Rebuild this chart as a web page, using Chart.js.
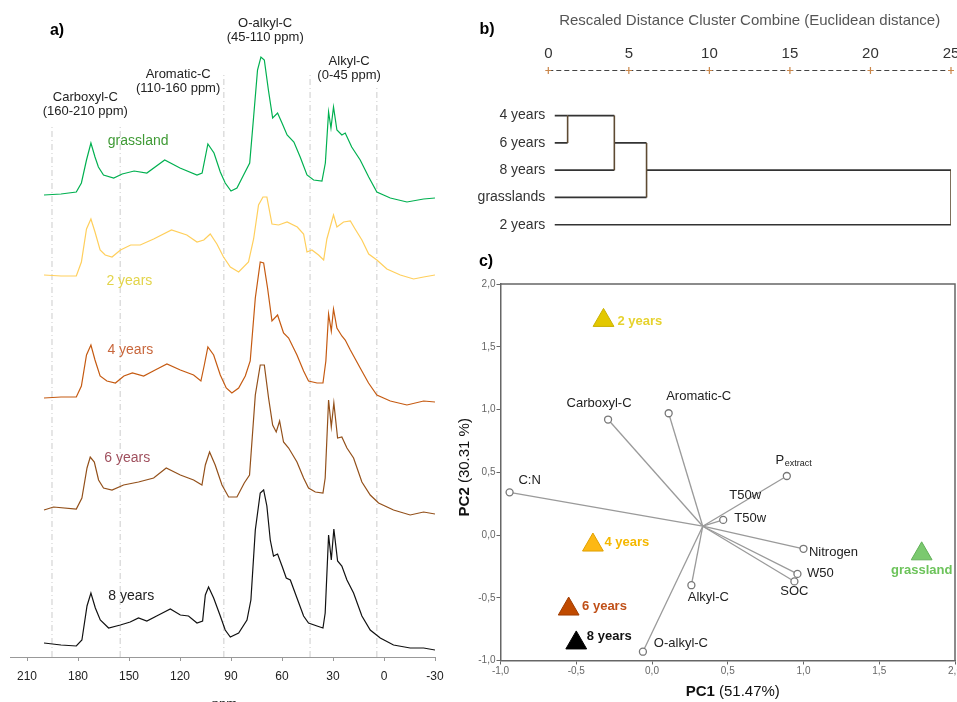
<!DOCTYPE html>
<html>
<head>
<meta charset="utf-8">
<title>13C NMR spectra, cluster analysis and PCA</title>
<script src="https://cdn.jsdelivr.net/npm/chart.js@4.4.1/dist/chart.umd.min.js"></script>
<style>
  body { margin: 0; background: #fff; }
  #wrap { position: relative; width: 957px; height: 702px; overflow: hidden; }
  canvas { position: absolute; }
  #spectra { left: 0; top: 0; }
  #dendro { left: 470px; top: 0; }
  #pca { left: 450px; top: 250px; }
</style>
</head>
<body>
<div id="wrap">
  <canvas id="spectra" width="450" height="702"></canvas>
  <canvas id="dendro" width="487" height="250"></canvas>
  <canvas id="pca" width="507" height="452"></canvas>
</div>
<script>
// ---- a) NMR spectra, [ppm, intensity above own baseline] ----
const grassland = [[200,0],[190,1],[181,3],[178,12],[175,35],[172.4,52],[170,38],[168,28],[165,20],[159,17],[154,21],[147,24],[139.5,22],[129,35],[120,27],[110,20],[107,22],[103.6,51],[100,42],[96.3,23],[93.4,12],[90,4],[86.5,7],[82.6,20],[79,32],[76.7,78],[74.4,125],[72.4,138],[70.4,135],[68,105],[65.5,77],[62.6,82],[60,72],[57,60],[53,53],[49.3,38],[45.3,20],[41.4,15],[36.5,14],[34.5,32],[32.6,83],[31.2,67],[29.7,88],[27.7,65],[24.8,60],[22.8,62],[19,48],[14,35],[9,18],[4.2,3],[-3.7,-3],[-13.5,-7],[-23.3,-4],[-30,-3]];
const twoYears = [[200,2],[190,1],[181,1],[178,15],[175,48],[172.4,58],[170,45],[167,27],[164,22],[160,20],[155,27],[149,32],[143.4,32],[135.5,38],[125,47],[116,42],[110,35],[106,37],[102.2,43],[98.3,33],[94.4,20],[90.4,10],[85.5,5],[79.7,15],[76.7,38],[73.8,72],[71.2,80],[68.9,80],[65.9,53],[62,52],[57,55],[51,50],[47.3,43],[45.3,25],[42.4,27],[38.5,22],[35.5,17],[33.6,38],[29.7,62],[27.7,50],[23.8,55],[19.8,56],[17,48],[13,37],[9,23],[4.2,17],[-1.7,8],[-9.6,2],[-17.4,-2],[-23.3,0],[-30,2]];
const fourYears = [[200,0],[190,1],[181,1],[178,12],[175,43],[172.4,53],[170,38],[167,22],[163,17],[158,15],[153,22],[148,25],[141.4,22],[134.6,28],[127.7,34],[119.8,28],[112,23],[107.7,17],[105.7,33],[103.6,51],[100.2,43],[96.3,23],[92.8,10],[89.5,5],[85.5,10],[81.6,22],[78.7,37],[75.7,100],[72.8,136],[70.8,135],[68.5,110],[65.9,77],[62.6,83],[59.1,65],[56.1,60],[51.2,43],[47.3,27],[44.4,17],[39.4,15],[35.9,15],[34.2,37],[32.6,84],[31,67],[29.7,89],[27.7,70],[24.8,62],[22.8,58],[19.8,48],[14,30],[9.1,15],[4.2,3],[-3.7,-3],[-13.5,-7],[-23.3,-3],[-30,-4]];
const sixYears = [[200,0],[194.4,3],[181,1],[177.7,12],[174.7,42],[172.8,53],[170.4,48],[167.9,30],[165,22],[160,20],[153.2,25],[144.4,28],[135.5,32],[128.1,42],[119.8,35],[112,30],[107.1,25],[105.1,45],[102.6,58],[99.3,45],[95.3,25],[91.4,13],[86.5,13],[82.2,27],[79.1,35],[75.7,115],[72.8,145],[70.4,145],[67.9,112],[65.5,85],[63.4,78],[61.4,89],[59.1,68],[56.1,62],[51.2,48],[47.3,32],[44.4,22],[40.4,18],[35.9,17],[34.6,32],[32.6,110],[31,83],[29.5,107],[27.3,72],[24.8,73],[21.8,62],[17.9,52],[13,28],[8.1,15],[3.2,7],[-5.6,0],[-15.4,-5],[-23.3,-2],[-30,-4]];
const eightYears = [[200,1],[190,-1],[181,-2],[177.7,4],[174.7,38],[172.4,51],[169.8,36],[166.9,24],[162,16],[155.1,19],[149.3,22],[144.4,26],[139.5,23],[132.6,29],[125.7,35],[119.8,29],[115,28],[110,21],[106.7,23],[105.1,49],[103.2,57],[100.2,46],[96.3,28],[93.4,14],[90.4,7],[85.5,11],[80.6,24],[78.3,44],[75.7,114],[72.8,151],[70.8,154],[68.9,138],[66.9,104],[65,88],[62.6,90],[60,78],[57.5,66],[55.1,64],[51.2,46],[47.3,28],[44.4,21],[39.4,18],[35.9,16],[34.6,31],[32.6,109],[31,84],[29.5,115],[27.3,83],[24.8,78],[21.8,64],[17.9,51],[13,28],[8.1,14],[2.2,6],[-5.6,-1],[-15.4,-4],[-23.3,-4],[-30,-6]];
const spectraNames = ["grassland", "2 years", "4 years", "6 years", "8 years"];
const ppmTicks = [210, 180, 150, 120, 90, 60, 30, 0, -30];
const regionLabels = [["Carboxyl-C", "(160-210 ppm)"], ["Aromatic-C", "(110-160 ppm)"], ["O-alkyl-C", "(45-110 ppm)"], ["Alkyl-C", "(0-45 ppm)"]];
const regionBounds = [195.3, 155.2, 94.2, 43.5, 4.2];

// ---- b) dendrogram ----
const leafNames = ["4 years", "6 years", "8 years", "grasslands", "2 years"];
const mergePairs = [[0, 1], [0, 2], [0, 3], [0, 4]];
const mergeDist = [1.2, 4.1, 6.1, 25];
const leafStart = 0.4;

// ---- c) PCA biplot ----
const varNames = ["Carboxyl-C", "Aromatic-C", "Pextract", "C:N", "T50w", "Nitrogen", "W50", "SOC", "Alkyl-C", "O-alkyl-C"];
const varPC1 = [-0.29, 0.11, 0.89, -0.94, 0.47, 1.0, 0.96, 0.94, 0.26, -0.06];
const varPC2 = [0.92, 0.97, 0.47, 0.34, 0.12, -0.11, -0.31, -0.37, -0.4, -0.93];
const vectorOrigin = [0.335, 0.07];
const sampleNames = ["2 years", "4 years", "6 years", "8 years", "grassland"];
const samplePC1 = [-0.32, -0.39, -0.55, -0.5, 1.78];
const samplePC2 = [1.71, -0.08, -0.59, -0.86, -0.15];

// ---- layout and styles ----
const FONT = '"Liberation Sans", Arial, sans-serif';
const spectraData = [grassland, twoYears, fourYears, sixYears, eightYears];
const spectraOffset = [462, 380, 259, 147, 13];
const spectraColors = ["#00b050", "#ffcf5c", "#c55a11", "#93501a", "#111111"];
const spectraLabelColors = ["#3f9a35", "#e2d44a", "#c8673c", "#a0505e", "#222222"];
const spectraLabelPos = [[144.6, 516], [149.8, 376], [149.2, 307], [151, 199], [148.7, 61]];
const regionLabelPos = [[175.7, 560], [121.1, 583], [69.9, 634], [20.5, 596]];
const regionLineTop = [530, 532, 585, 585, 569];
const varLabelOffset = [[-9, -16], [30, -17], [-7, -16], [20, -12], [27, -2], [30, 4], [23, 0], [0, 10], [17, 12], [38, -8]];
const extraLabel = { text: "T50w", x: 0.615, y: 0.319 };
const sampleFill = ["#e3c800", "#fdb813", "#c04a00", "#000000", "#7bc96f"];
const sampleBorder = ["#c9b000", "#e0a000", "#a03c00", "#000000", "#62b058"];
const sampleLabelColors = ["#e6d22e", "#f5b800", "#c05018", "#111111", "#6cc35a"];
const sampleLabelOffset = [[14, 1, "left"], [11.6, -3, "left"], [13.4, -3, "left"], [10.6, -7, "left"], [0, 17, "center"]];

Chart.defaults.font.family = FONT;
Chart.defaults.animation = false;

// ---------- a) ----------
const spectraSets = spectraData.map((s, i) => ({
  label: spectraNames[i],
  data: s.map(([p, v]) => ({ x: p, y: v + spectraOffset[i] })),
  borderColor: spectraColors[i],
  borderWidth: 1.2,
  pointRadius: 0,
  tension: 0,
  order: 0,
}));
const guideSets = regionBounds.map((p, i) => ({
  data: [{ x: p, y: 0 }, { x: p, y: regionLineTop[i] }],
  borderColor: "#cccccc",
  borderWidth: 1,
  borderDash: [6, 3, 1, 3],
  pointRadius: 0,
  order: 1,
}));

const spectraText = {
  id: "spectraText",
  afterDraw(chart) {
    const { ctx, scales: { x, y } } = chart;
    ctx.save();
    ctx.textAlign = "center";
    ctx.textBaseline = "middle";
    ctx.fillStyle = "#000";
    ctx.font = "bold 16px " + FONT;
    ctx.fillText("a)", 57, 31);
    ctx.font = "13px " + FONT;
    ctx.fillStyle = "#222";
    regionLabels.forEach((lines, i) => {
      const px = x.getPixelForValue(regionLabelPos[i][0]);
      const py = y.getPixelForValue(regionLabelPos[i][1]);
      lines.forEach((t, j) => ctx.fillText(t, px, py + j * 14));
    });
    ctx.font = "14px " + FONT;
    spectraNames.forEach((n, i) => {
      ctx.fillStyle = spectraLabelColors[i];
      ctx.fillText(n, x.getPixelForValue(spectraLabelPos[i][0]), y.getPixelForValue(spectraLabelPos[i][1]));
    });
    ctx.font = "13px " + FONT;
    ctx.fillStyle = "#222";
    ctx.fillText("ppm", (x.left + x.right) / 2 + 2, 704);
    ctx.restore();
  },
};

new Chart(document.getElementById("spectra"), {
  type: "line",
  data: { datasets: [...spectraSets, ...guideSets] },
  options: {
    responsive: false,
    layout: { autoPadding: false, padding: { left: 10, right: 15, top: 0, bottom: 0 } },
    plugins: { legend: { display: false }, tooltip: { enabled: false } },
    scales: {
      x: {
        type: "linear",
        reverse: true,
        min: -30,
        max: 220,
        afterBuildTicks: (s) => { s.ticks = ppmTicks.map((v) => ({ value: v })); },
        afterFit: (s) => { s.height = 45; s.paddingLeft = 0; s.paddingRight = 0; },
        grid: { drawOnChartArea: false, drawTicks: true, tickLength: 4, color: "#999" },
        border: { color: "#999", width: 1 },
        ticks: { font: { size: 12 }, color: "#222", padding: 8, maxRotation: 0, autoSkip: false, callback: (v) => String(v) },
      },
      y: { display: false, min: 0, max: 657 },
    },
  },
  plugins: [spectraText],
});

// ---------- b) ----------
let clusters = leafNames.map((n, i) => ({ x: leafStart, y: i + 1 }));
let hSegs = [];
let vSegs = [];
mergePairs.forEach(([a, b], k) => {
  const d = mergeDist[k];
  const A = clusters[a];
  const B = clusters[b];
  hSegs.push([{ x: A.x, y: A.y }, { x: d, y: A.y }]);
  hSegs.push([{ x: B.x, y: B.y }, { x: d, y: B.y }]);
  vSegs.push([{ x: d, y: A.y }, { x: d, y: B.y }]);
  clusters[a] = { x: d, y: Math.floor((A.y + B.y) / 2) };
});
const segStyle = (seg, color) => ({ data: seg, borderColor: color, borderWidth: 1.6, pointRadius: 0, tension: 0 });

const dendroText = {
  id: "dendroText",
  afterDraw(chart) {
    const { ctx, chartArea } = chart;
    const xs = chart.scales.x;
    ctx.save();
    ctx.fillStyle = "#000";
    ctx.font = "bold 16px " + FONT;
    ctx.textAlign = "center";
    ctx.textBaseline = "middle";
    ctx.fillText("b)", 17, 30);
    // dashed distance axis
    ctx.strokeStyle = "#444";
    ctx.lineWidth = 1;
    ctx.setLineDash([5, 3]);
    ctx.beginPath();
    ctx.moveTo(chartArea.left, chartArea.top + 0.5);
    ctx.lineTo(chartArea.right, chartArea.top + 0.5);
    ctx.stroke();
    ctx.setLineDash([]);
    ctx.strokeStyle = "#c9864a";
    ctx.lineWidth = 1.2;
    xs.ticks.forEach((t) => {
      const px = xs.getPixelForValue(t.value);
      ctx.beginPath();
      ctx.moveTo(px - 3, chartArea.top + 0.5);
      ctx.lineTo(px + 3, chartArea.top + 0.5);
      ctx.moveTo(px, chartArea.top - 3);
      ctx.lineTo(px, chartArea.top + 4);
      ctx.stroke();
    });
    ctx.restore();
  },
};

new Chart(document.getElementById("dendro"), {
  type: "line",
  data: { datasets: [...vSegs.map((s) => segStyle(s, "#5e4b33")), ...hSegs.map((s) => segStyle(s, "#333"))] },
  options: {
    responsive: false,
    layout: { autoPadding: false, padding: { left: 0, right: 6, top: 0, bottom: 10 } },
    plugins: { legend: { display: false }, tooltip: { enabled: false } },
    scales: {
      x: {
        type: "linear",
        position: "top",
        min: 0,
        max: 25,
        ticks: { stepSize: 5, font: { size: 15 }, color: "#333", padding: 7, maxRotation: 0 },
        grid: { display: false, drawTicks: false },
        border: { display: false },
        title: {
          display: true,
          text: "Rescaled Distance Cluster Combine (Euclidean distance)",
          font: { size: 15 },
          color: "#555",
          padding: { top: 12, bottom: 0 },
        },
        afterFit: (s) => { s.height = 70; s.paddingLeft = 0; s.paddingRight = 0; },
      },
      y: {
        type: "linear",
        reverse: true,
        min: -0.673,
        max: 5.51,
        afterBuildTicks: (s) => { s.ticks = leafNames.map((n, i) => ({ value: i + 1 })); },
        ticks: { callback: (v) => leafNames[v - 1], font: { size: 14 }, color: "#333", padding: 3, autoSkip: false },
        grid: { display: false, drawTicks: false },
        border: { display: false },
        afterFit: (s) => { s.width = 78.3; },
      },
    },
  },
  plugins: [dendroText],
});

// ---------- c) ----------
const vectorSets = varNames.map((n, i) => ({
  type: "line",
  data: [{ x: vectorOrigin[0], y: vectorOrigin[1] }, { x: varPC1[i], y: varPC2[i] }],
  borderColor: "#9a9a9a",
  borderWidth: 1.3,
  pointRadius: 0,
  tension: 0,
}));
const circleSet = {
  type: "scatter",
  data: varNames.map((n, i) => ({ x: varPC1[i], y: varPC2[i] })),
  pointStyle: "circle",
  pointRadius: 3.5,
  pointBackgroundColor: "#fff",
  pointBorderColor: "#777",
  pointBorderWidth: 1.3,
};
const sampleSet = {
  type: "scatter",
  data: sampleNames.map((n, i) => ({ x: samplePC1[i], y: samplePC2[i] })),
  pointStyle: "triangle",
  pointRadius: 12,
  pointBackgroundColor: sampleFill,
  pointBorderColor: sampleBorder,
  pointBorderWidth: 1,
};

const pcaText = {
  id: "pcaText",
  afterDraw(chart) {
    const { ctx, chartArea: ca, scales: { x, y } } = chart;
    ctx.save();
    // frame top and right
    ctx.strokeStyle = "#666";
    ctx.lineWidth = 1.5;
    ctx.beginPath();
    ctx.moveTo(ca.left, ca.top);
    ctx.lineTo(ca.right, ca.top);
    ctx.lineTo(ca.right, ca.bottom);
    ctx.stroke();

    ctx.textBaseline = "middle";
    ctx.fillStyle = "#000";
    ctx.font = "bold 16px " + FONT;
    ctx.textAlign = "center";
    ctx.fillText("c)", 36, 12);

    // variable labels
    ctx.font = "13px " + FONT;
    ctx.fillStyle = "#222";
    varNames.forEach((n, i) => {
      const px = x.getPixelForValue(varPC1[i]) + varLabelOffset[i][0];
      const py = y.getPixelForValue(varPC2[i]) + varLabelOffset[i][1];
      if (n === "Pextract") {
        ctx.textAlign = "center";
        ctx.font = "13px " + FONT;
        ctx.fillText("P", px, py);
        ctx.textAlign = "left";
        ctx.font = "9px " + FONT;
        ctx.fillText("extract", px + 5, py + 4);
        ctx.font = "13px " + FONT;
      } else {
        ctx.textAlign = "center";
        ctx.fillText(n, px, py);
      }
    });
    ctx.textAlign = "center";
    ctx.fillText(extraLabel.text, x.getPixelForValue(extraLabel.x), y.getPixelForValue(extraLabel.y));

    // sample labels
    ctx.font = "bold 13px " + FONT;
    sampleNames.forEach((n, i) => {
      const [dx, dy, al] = sampleLabelOffset[i];
      ctx.textAlign = al;
      ctx.fillStyle = sampleLabelColors[i];
      ctx.fillText(n, x.getPixelForValue(samplePC1[i]) + dx, y.getPixelForValue(samplePC2[i]) + dy);
    });

    // axis titles with bold prefix
    const drawTitle = (bold, rest, cx, cy) => {
      ctx.font = "bold 15px " + FONT;
      const w1 = ctx.measureText(bold).width;
      ctx.font = "15px " + FONT;
      const w2 = ctx.measureText(rest).width;
      const x0 = cx - (w1 + w2) / 2;
      ctx.textAlign = "left";
      ctx.fillStyle = "#111";
      ctx.font = "bold 15px " + FONT;
      ctx.fillText(bold, x0, cy);
      ctx.font = "15px " + FONT;
      ctx.fillText(rest, x0 + w1, cy);
    };
    drawTitle("PC1", " (51.47%)", (ca.left + ca.right) / 2 + 5, ca.bottom + 31);
    ctx.translate(ca.left - 35.5, (ca.top + ca.bottom) / 2 - 5);
    ctx.rotate(-Math.PI / 2);
    drawTitle("PC2", " (30.31 %)", 0, 0);
    ctx.restore();
  },
};

const commaTick = (v) => v.toFixed(1).replace(".", ",");

new Chart(document.getElementById("pca"), {
  type: "scatter",
  data: { datasets: [sampleSet, circleSet, ...vectorSets] },
  options: {
    responsive: false,
    layout: { autoPadding: false, padding: { left: 0, right: 2, top: 34, bottom: 0 } },
    plugins: { legend: { display: false }, tooltip: { enabled: false } },
    scales: {
      x: {
        type: "linear",
        min: -1,
        max: 2,
        ticks: { stepSize: 0.5, font: { size: 10 }, color: "#666", padding: 1, callback: commaTick },
        grid: { drawOnChartArea: false, tickLength: 4, color: "#666" },
        border: { color: "#666", width: 1.5 },
        afterFit: (s) => { s.height = 41.5; s.paddingLeft = 0; s.paddingRight = 0; },
      },
      y: {
        type: "linear",
        min: -1,
        max: 2,
        ticks: { stepSize: 0.5, font: { size: 10 }, color: "#666", padding: 1, callback: commaTick },
        grid: { drawOnChartArea: false, tickLength: 4, color: "#666" },
        border: { color: "#666", width: 1.5 },
        afterFit: (s) => { s.width = 50.5; s.paddingTop = 0; s.paddingBottom = 0; },
      },
    },
  },
  plugins: [pcaText],
});
</script>
</body>
</html>
